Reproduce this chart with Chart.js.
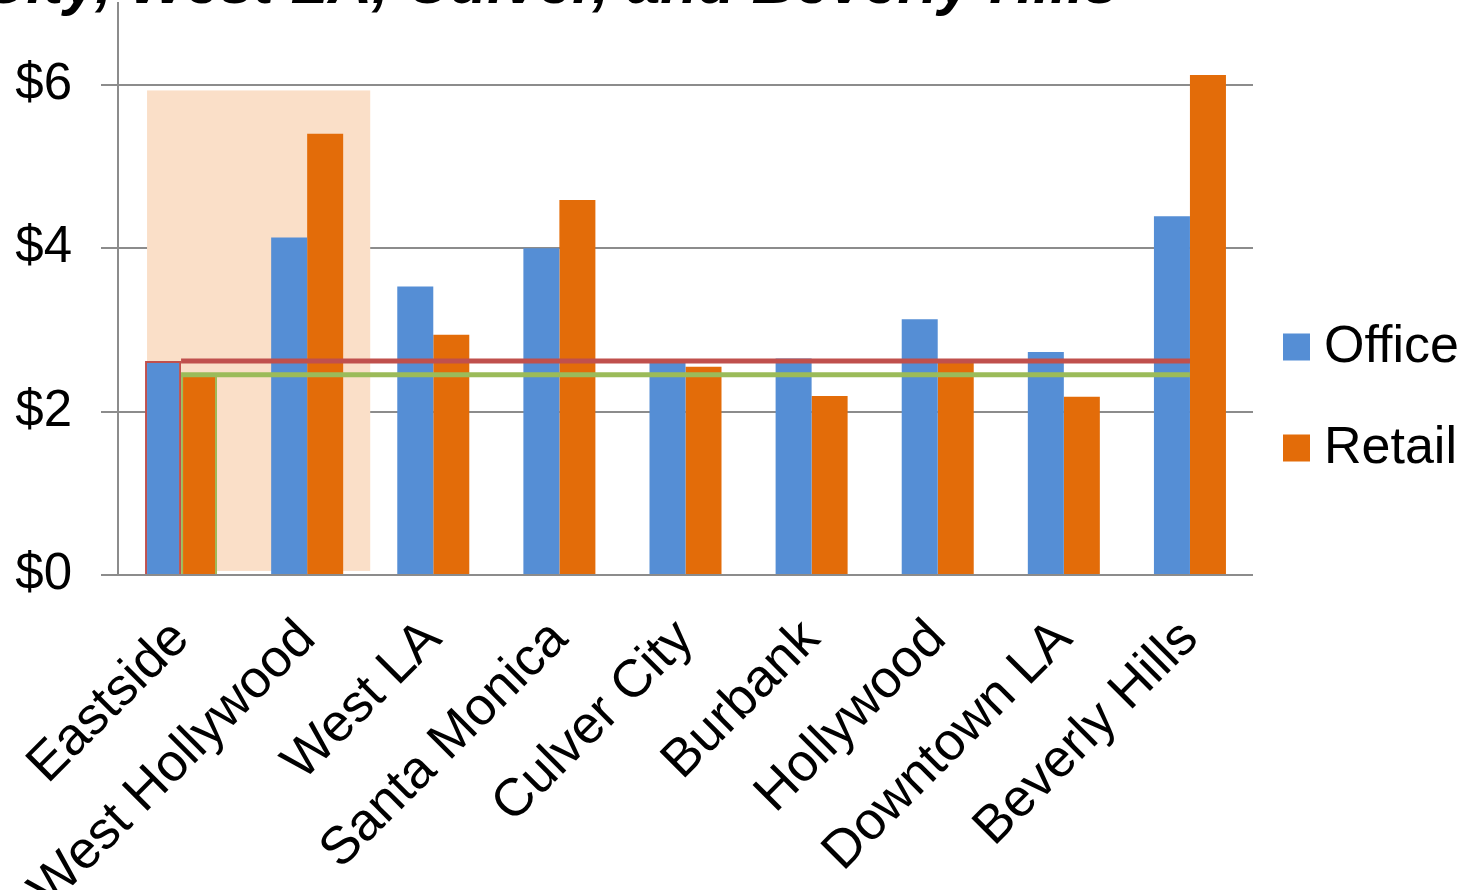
<!DOCTYPE html>
<html>
<head>
<meta charset="utf-8">
<script src="https://cdn.jsdelivr.net/npm/chart.js@4.4.0/dist/chart.umd.min.js"></script>
<style>
  html, body { margin: 0; padding: 0; background: #ffffff; overflow: hidden; }
  #wrap { position: absolute; left: 0; top: 0; width: 1470px; height: 890px; }
</style>
</head>
<body>
<div id="wrap"><canvas id="rents" width="1470" height="890"></canvas></div>
<script>
// Asking rents per square foot by neighbourhood
const titleText = 'Eastside rents trail Santa Monica, West Hollywood, Century City, West LA, Culver, and Beverly Hills';
const areas = ['Eastside', 'West Hollywood', 'West LA', 'Santa Monica', 'Culver City', 'Burbank', 'Hollywood', 'Downtown LA', 'Beverly Hills'];
const office = [2.62, 4.13, 3.53, 4.00, 2.60, 2.65, 3.13, 2.73, 4.39];
const retail = [2.45, 5.40, 2.94, 4.59, 2.55, 2.19, 2.62, 2.18, 6.12];
const yTicks = [0, 2, 4, 6];
const yMax = 7;
// shaded band behind the first two neighbourhoods (value range in $)
const bandAreas = ['Eastside', 'West Hollywood'];
const bandRange = [0.05, 5.93];

const OFFICE_BLUE = '#558ED5';
const RETAIL_ORANGE = '#E36C09';
const LINE_RED = '#C0504D';
const LINE_GREEN = '#9BBB59';
const BAND = '#FADFC8';
const GRID = '#8C8C8C';
const FONT = '"Liberation Sans", Arial, sans-serif';

// band drawn under the bars
const bandPlugin = {
  id: 'band',
  beforeDatasetsDraw(chart) {
    const { ctx, scales: { x, y } } = chart;
    const firstBar = chart.getDatasetMeta(0).data[areas.indexOf(bandAreas[0])];
    const lastIdx = areas.indexOf(bandAreas[1]);
    const left = firstBar.x - firstBar.width / 2 + 2;
    const right = (x.getPixelForValue(lastIdx) + x.getPixelForValue(lastIdx + 1)) / 2;
    const top = y.getPixelForValue(bandRange[1]);
    const bottom = y.getPixelForValue(bandRange[0]);
    ctx.save();
    ctx.fillStyle = BAND;
    ctx.fillRect(left, top, right - left, bottom - top);
    ctx.restore();
  }
};

// Eastside office and retail levels carried across all neighbourhoods
const levelPlugin = {
  id: 'levels',
  afterDatasetsDraw(chart) {
    const { ctx, scales: { x, y } } = chart;
    const x0 = x.getPixelForValue(0);
    const x1 = x.getPixelForValue(areas.length - 1);
    const draw = (val, color) => {
      const py = y.getPixelForValue(val);
      ctx.save();
      ctx.strokeStyle = color;
      ctx.lineWidth = 5;
      ctx.lineCap = 'butt';
      ctx.beginPath();
      ctx.moveTo(x0, py);
      ctx.lineTo(x1, py);
      ctx.stroke();
      ctx.restore();
    };
    draw(office[0], LINE_RED);
    draw(retail[0], LINE_GREEN);
  }
};

// legend on the right and the title running off the top edge
const decorPlugin = {
  id: 'decor',
  afterDraw(chart) {
    const { ctx } = chart;
    ctx.save();
    ctx.fillStyle = '#000';
    ctx.font = 'italic bold 61px ' + FONT;
    ctx.textAlign = 'right';
    ctx.textBaseline = 'alphabetic';
    ctx.fillText(titleText, 1118, 3);

    const rows = [347, 448];
    chart.data.datasets.forEach((ds, i) => {
      const cy = rows[i];
      ctx.fillStyle = ds.backgroundColor;
      ctx.fillRect(1283, cy - 13.5, 27, 27);
      ctx.fillStyle = '#000';
      ctx.font = '52px ' + FONT;
      ctx.textAlign = 'left';
      ctx.textBaseline = 'middle';
      ctx.fillText(ds.label, 1324, cy + 1);
    });
    ctx.restore();
  }
};

new Chart(document.getElementById('rents'), {
  type: 'bar',
  data: {
    labels: areas,
    datasets: [
      {
        label: 'Office',
        data: office,
        backgroundColor: OFFICE_BLUE,
        borderColor: office.map((_, i) => i === 0 ? LINE_RED : OFFICE_BLUE),
        borderWidth: office.map((_, i) => i === 0 ? 2 : 0),
        barPercentage: 1,
        categoryPercentage: 0.571
      },
      {
        label: 'Retail',
        data: retail,
        backgroundColor: RETAIL_ORANGE,
        borderColor: retail.map((_, i) => i === 0 ? LINE_GREEN : RETAIL_ORANGE),
        borderWidth: retail.map((_, i) => i === 0 ? 2 : 0),
        barPercentage: 1,
        categoryPercentage: 0.571
      }
    ]
  },
  options: {
    responsive: false,
    devicePixelRatio: 1,
    animation: false,
    layout: { padding: { left: 0, right: 217, top: 3, bottom: 0 } },
    plugins: {
      legend: { display: false },
      tooltip: { enabled: false },
      title: { display: false }
    },
    scales: {
      x: {
        offset: true,
        grid: { display: false, drawTicks: false },
        border: { display: false },
        ticks: {
          autoSkip: false,
          minRotation: 45,
          maxRotation: 45,
          padding: 33,
          color: '#000',
          font: { family: FONT, size: 53 }
        },
        afterFit(s) {
          s.height = 315;
          s.paddingLeft = 0;
          s.paddingRight = 0;
        }
      },
      y: {
        min: 0,
        max: yMax,
        grid: { color: GRID, lineWidth: 2, tickLength: 17, drawTicks: true },
        border: { display: true, color: GRID, width: 2 },
        ticks: {
          padding: 29,
          color: '#000',
          font: { family: FONT, size: 51 },
          callback: v => '$' + v
        },
        afterBuildTicks(s) {
          s.ticks = yTicks.map(v => ({ value: v }));
        },
        afterFit(s) {
          s.width = 118;
          s.paddingTop = 0;
          s.paddingBottom = 0;
        }
      }
    }
  },
  plugins: [bandPlugin, levelPlugin, decorPlugin]
});
</script>
</body>
</html>
